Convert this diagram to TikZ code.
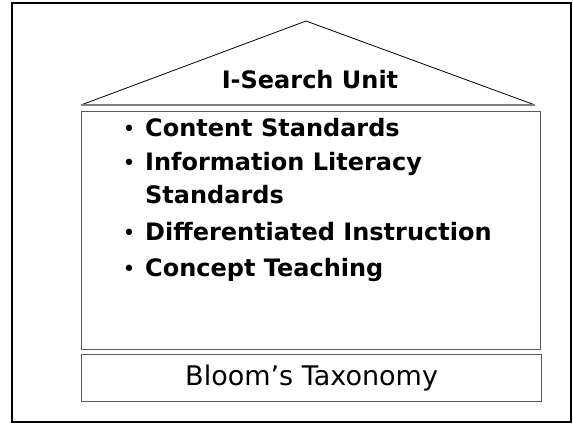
\documentclass[tikz,border=0pt]{standalone}
\usepackage{fontspec}
\setmainfont{DejaVu Sans}
\usetikzlibrary{positioning}

\begin{document}
\begin{tikzpicture}[x=1pt,y=-1pt,
    frame/.style={draw=black,line width=2pt},
    roof/.style={draw=black,line width=0.8pt},
    level/.style={draw=black!65,line width=1.2pt},
    item/.style={font=\fontsize{24}{28}\bfseries,anchor=base west,inner sep=0pt},
    dot/.style={font=\fontsize{22}{24}\selectfont,anchor=base,inner sep=0pt}]
  \useasboundingbox (0,0) rectangle (573,424);
  \draw[frame] (12,3) rectangle (571,422);
  % roof
  \coordinate (eaveL) at (81,105);
  \coordinate (apex) at (306,21);
  \coordinate (eaveR) at (535,105);
  \draw[roof] (eaveL) -- (apex) -- (eaveR);
  \draw[level,black!50] (eaveL) -- (eaveR);
  \node[font=\fontsize{24}{28}\bfseries,anchor=base] (title) at (310,88) {I-Search Unit};
  % body and base
  \node[level,minimum width=459pt,minimum height=238pt,anchor=north west] (body) at (81,111) {};
  \node[level,minimum width=460pt,minimum height=47pt,anchor=north west,
        font=\fontsize{27}{30}\selectfont] (bloom) at (81,354) {Bloom’s Taxonomy};
  % items
  \node[item] (content) at (145,136) {Content Standards};
  \node[item] (info) at (145,170) {Information Literacy};
  \node[item] (info2) at (145,203) {Standards};
  \node[item] (diff) at (145,240) {Differentiated Instruction};
  \node[item] (concept) at (145,276) {Concept Teaching};
  \foreach \n in {content,info,diff,concept}
    \node[dot] at ([xshift=-16pt]\n.base west) {\textbullet};
\end{tikzpicture}
\end{document}
